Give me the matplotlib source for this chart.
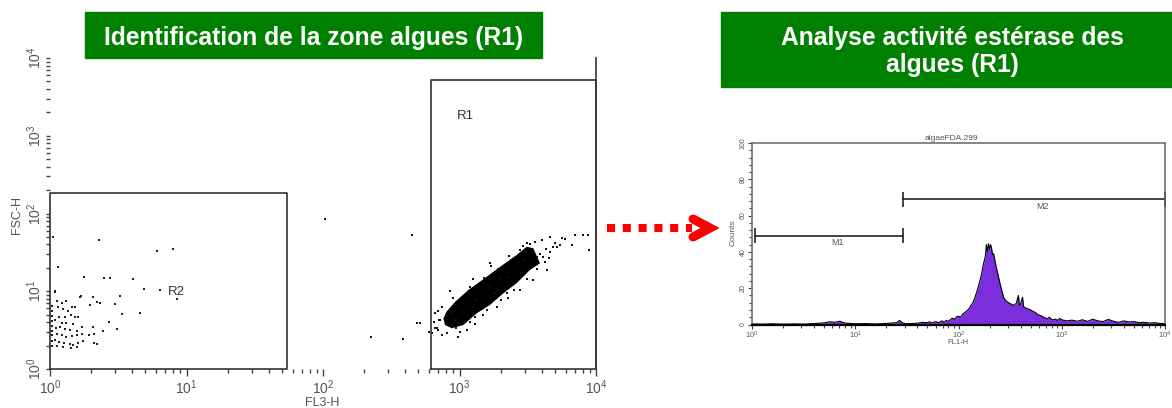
import matplotlib
matplotlib.use("Agg")
import matplotlib.pyplot as plt
from matplotlib.patches import Rectangle
from matplotlib.lines import Line2D
from matplotlib.ticker import MultipleLocator, LogLocator, NullFormatter

plt.rcParams['font.family'] = ['Liberation Sans', 'DejaVu Sans']

W, H = 1172, 408

# ---- texts ----
title_left = "Identification de la zone algues (R1)"
title_right = ["Analyse activité estérase des", "algues (R1)"]
hist_name = "algaeFDA.299"
decade_labels = [r"$\mathregular{10^{%d}}$" % k for k in range(5)]
decades = [1, 10, 100, 1000, 10000]

# ---- cytogram FL3-H / FSC-H ----
# debris / small particles (gate R2)
debris = [(1.06, 50), (2.30, 45.6), (6.04, 33.2), (7.9, 34.9), (1.15, 20.3), (1.78, 15.4),
          (2.5, 14.7), (2.75, 14.7), (4.08, 14.2), (4.88, 10.6), (6.4, 10.4), (8.5, 7.9),
          (3.26, 8.7), (1.69, 8.7), (2.99, 6.9), (2.05, 8.4), (2.2, 7.3), (2.32, 7.1),
          (1.96, 6.7), (4.57, 5.2), (3.39, 5.1), (2.72, 4.06), (3.08, 3.3), (2.08, 3.5),
          (2.1, 2.82), (1.94, 2.74), (2.46, 3.11), (2.11, 2.18), (2.2, 2.1),
          (1.09, 9.9), (1.12, 7.6), (1.22, 7.1), (1.32, 7.6), (1.44, 6.2), (1.52, 6.3),
          (1.66, 8.5), (1.15, 6.3), (1.25, 5.9), (1.36, 5.6), (1.17, 4.6), (1.29, 4.7),
          (1.42, 4.95), (1.52, 4.6), (1.61, 4.7), (1.09, 4.27), (1.22, 3.94), (1.32, 3.87),
          (1.47, 3.79), (1.11, 3.34), (1.18, 3.44), (1.29, 3.24), (1.40, 3.17), (1.58, 3.11),
          (1.71, 3.5), (1.13, 2.82), (1.22, 2.71), (1.32, 2.6), (1.44, 2.66), (1.57, 2.74),
          (1.71, 2.82), (1.09, 2.36), (1.17, 2.24), (1.27, 2.14), (1.39, 2.1), (1.48, 2.04),
          (1.61, 2.18), (1.75, 2.31), (1.12, 1.98), (1.25, 1.94), (1.42, 1.85), (1.57, 1.94),
          (1.03, 6.5), (1.03, 5.5), (1.03, 4.8), (1.03, 4.2), (1.03, 3.6), (1.03, 3.1),
          (1.03, 2.7), (1.03, 2.3), (1.03, 2.0), (1.09, 10.2)]

# algae events around the dense core (gate R1) and a few strays
algae = [(447, 53), (514, 3.86), (388, 2.41), (625, 2.88), (662, 3.34), (720, 4.27),
         (740, 2.74), (980, 2.6), (1128, 3.18), (1009, 3.02), (805, 2.88), (1671, 22.9),
         (1923, 10.4), (2218, 15.4), (2776, 34), (3107, 41.3), (3576, 43.4), (4001, 45.6),
         (4605, 50.4), (4868, 37.4), (5601, 48), (5929, 46.6), (6637, 39.4), (7017, 53),
         (8075, 53), (8790, 53), (8934, 34), (4353, 18.8), (3474, 14), (2776, 10.4),
         (2281, 8.1), (1871, 6.3), (1495, 4.95), (1194, 4.06), (2937, 25.2), (3674, 27.9),
         (4111, 27.9), (4605, 32.3), (5152, 37.4), (5448, 39.4), (3380, 32.3), (2410, 20.7),
         (1981, 14.7), (1671, 11.5), (1336, 7.7), (1067, 5.46), (927, 4.27), (877, 5.2),
         (1414, 9.4), (1820, 9.4), (1262, 6.3), (2776, 17), (2478, 12.6), (2218, 9.4),
         (1200, 11.5), (1500, 14.8), (1900, 19.5), (2400, 25), (3000, 32), (900, 8.2),
         (700, 5.5), (750, 6.2), (1100, 4.0), (1300, 4.6), (1600, 5.8), (2000, 7.8),
         (2500, 10.5), (3100, 14.5), (3700, 19.5), (4200, 23.5), (4500, 26.5), (3900, 30),
         (4300, 35), (5000, 42), (3300, 40), (2900, 38), (2300, 28), (1700, 21),
         (1250, 14.5), (850, 10), (650, 4.0), (700, 3.2), (950, 3.4), (1300, 3.8),
         (103, 84), (225, 2.56), (486, 3.87), (601, 3.02), (662, 5.2), (681, 3.34), (708, 4.27)]

# outline of the saturated (black) part of the algae cloud
core_fl3 = [783, 877, 1067, 1337, 1672, 2094, 2624, 3283, 3890, 3474, 3106, 2624, 2155,
            1770, 1413, 1161, 927, 806, 762]
core_fsc = [3.68, 3.34, 3.68, 5.2, 6.66, 9.4, 12.7, 18.8, 22.9, 35.7, 37.4, 29.3, 22.9,
            17.8, 13.3, 10.4, 7.3, 5.5, 4.5]

# gates: (fl3 min, fl3 max, fsc min, fsc max)
gate_r2 = (1, 54.5, 1, 184)
gate_r1 = (618, 10000, 1, 5200)

# ---- histogram FL1-H (esterase activity) ----
hist_fl1 = [1.0, 1.26, 1.58, 2.0, 2.51, 3.16, 3.98, 5.01, 5.62, 6.31, 7.08, 7.94, 10, 12.6,
            15.8, 20.0, 25.1, 26.9, 28.8, 31.6, 39.8, 44.7, 50.1, 52.5, 55.0, 57.5, 60.3,
            63.1, 66.1, 69.2, 72.4, 75.9, 79.4, 83.2, 87.1, 91.2, 95.5, 100, 104.7, 109.6,
            114.8, 120.2, 125.9, 131.8, 138.0, 144.5, 151.4, 158.5, 166.0, 173.8, 182.0,
            186.2, 190.5, 195.0, 199.5, 204.2, 208.9, 213.8, 218.8, 229.1, 239.9, 251.2,
            263.0, 275.4, 288.4, 302.0, 316.2, 331.1, 346.7, 363.1, 380.2, 389.0, 398.1,
            416.9, 426.6, 457.1, 478.6, 501.2, 524.8, 549.5, 575.4, 602.6, 631.0, 660.7,
            691.8, 724.4, 758.6, 794.3, 831.8, 871.0, 912.0, 955.0, 1000, 1122, 1259, 1413,
            1585, 1778, 1995, 2239, 2512, 2818, 3162, 3548, 3981, 4467, 5012, 5623, 6310,
            7079, 7943, 8913, 10000]
hist_counts = [0.3, 0.2, 0.4, 0.2, 0.3, 0.2, 0.5, 0.9, 1.5, 1.2, 1.8, 0.8, 0.4, 0.5,
               0.3, 0.6, 1.0, 2.2, 0.8, 0.4, 0.7, 1.2, 1.0, 1.5, 0.8, 1.2, 1.6,
               1.0, 1.4, 2.0, 1.3, 2.2, 1.8, 2.6, 3.5, 2.8, 4.2, 4.5, 4.0, 5.8,
               6.5, 7.5, 8.5, 10.5, 12.0, 15.0, 18.5, 22.5, 27.0, 33.0, 37.5,
               44.0, 40.0, 44.5, 41.5, 44.0, 42.0, 38.5, 39.0, 33.0, 28.0, 23.0,
               18.5, 14.5, 13.0, 12.2, 11.5, 11.0, 10.5, 11.8, 16.0, 10.5, 11.0,
               15.0, 9.8, 8.8, 8.5, 8.0, 7.2, 6.8, 5.8, 5.2, 4.8, 4.2,
               3.5, 3.2, 4.0, 2.8, 2.5, 3.0, 2.2, 3.4, 2.6, 2.0, 2.4, 1.8,
               2.6, 1.7, 2.9, 2.0, 1.6, 2.8, 1.8, 1.2, 2.0, 1.4, 1.6, 1.0,
               1.2, 0.8, 1.0, 0.6, 0.5]

marker_names = ["M1", "M2"]
marker_lo = [1.07, 29.2]
marker_hi = [29.2, 10000]
marker_level = [49, 69]

GREEN = "#008000"
GRAY = "#555555"
PURPLE = "#7b2fdc"


def fx(px):
    return px / W


def fy(py):
    return 1 - py / H


fig = plt.figure(figsize=(W / 100, H / 100), dpi=100)

# ---------- left: cytogram ----------
ax = fig.add_axes([fx(50), fy(369), (596 - 50) / W, (369 - 58) / H])
ax.set_xscale('log')
ax.set_yscale('log')
ax.set_xlim(1, 1e4)
ax.set_ylim(1, 1e4)
for s in ax.spines.values():
    s.set_visible(False)
ax.set_xticks(decades, decade_labels, fontsize=10, color=GRAY)
ax.set_yticks(decades, decade_labels, fontsize=10, color=GRAY, rotation=90, va='center')
ax.xaxis.set_minor_locator(LogLocator(base=10, subs=range(2, 10), numticks=20))
ax.yaxis.set_minor_locator(LogLocator(base=10, subs=range(2, 10), numticks=20))
ax.xaxis.set_minor_formatter(NullFormatter())
ax.yaxis.set_minor_formatter(NullFormatter())
ax.tick_params(which='both', color='#444444', width=1, pad=1.5)
ax.tick_params(axis='x', which='major', length=5)
ax.tick_params(axis='x', which='minor', length=3)
ax.tick_params(axis='y', which='both', length=3)

dx, dy = zip(*debris)
ax.scatter(dx, dy, s=3, marker='s', c='#222222', linewidths=0, clip_on=False)
ax.fill(core_fl3, core_fsc, color='black', lw=0)
axx, axy = zip(*algae)
ax.scatter(axx, axy, s=3, marker='s', c='#111111', linewidths=0, clip_on=False)

for g in (gate_r2, gate_r1):
    ax.plot([g[0], g[0], g[1], g[1], g[0]], [g[2], g[3], g[3], g[2], g[2]],
            color='#333333', lw=1.2, clip_on=False)
ax.plot([gate_r1[1], gate_r1[1]], [1, 1e4], color='#333333', lw=1.2, clip_on=False)
ax.text(7.3, 9.8, "R2", fontsize=9.5, color='#333333', va='center')
ax.text(960, 1800, "R1", fontsize=9.5, color='#333333', va='center')

fig.text(fx(17), fy(215), "FSC-H", rotation=90, fontsize=9, color=GRAY,
         ha='center', va='center')
fig.text(fx(322), fy(403), "FL3-H", fontsize=9, color=GRAY, ha='center', va='center')

# ---------- right: histogram ----------
hx = fig.add_axes([fx(752), fy(324.5), (1165 - 752) / W, (324.5 - 143) / H])
hx.set_xscale('log')
hx.set_xlim(1, 1e4)
hx.set_ylim(0, 100)
hx.fill_between(hist_fl1, hist_counts, 0, color=PURPLE, lw=0)
hx.plot(hist_fl1, hist_counts, color='black', lw=0.8)
for name, lo, hi, lev in zip(marker_names, marker_lo, marker_hi, marker_level):
    hx.plot([lo, hi], [lev, lev], color='#222222', lw=1.2, clip_on=False)
    hx.vlines([lo, hi], lev - 4, lev + 4, color='#222222', lw=1.2, clip_on=False)
    hx.text((lo * hi) ** 0.5 * 1.2, lev - 4, name, fontsize=6.5, color=GRAY,
            ha='center', va='center')

for side in ('top', 'right', 'left'):
    hx.spines[side].set_color('#666666')
    hx.spines[side].set_linewidth(1.1)
hx.spines['bottom'].set_color('black')
hx.spines['bottom'].set_linewidth(1.6)
hx.set_xticks(decades, decade_labels, fontsize=5.5, color=GRAY)
hx.xaxis.set_minor_locator(LogLocator(base=10, subs=range(2, 10), numticks=20))
hx.xaxis.set_minor_formatter(NullFormatter())
hx.set_yticks([0, 20, 40, 60, 80, 100], ['0', '20', '40', '60', '80', '100'],
              fontsize=5, color=GRAY, rotation=90, va='center')
hx.yaxis.set_minor_locator(MultipleLocator(4))
hx.tick_params(which='both', color='#444444', width=0.8, length=2.5, pad=1)
hx.tick_params(which='major', length=3)

fig.text(fx(951), fy(140), hist_name, fontsize=6, color=GRAY, ha='center', va='baseline')
fig.text(fx(733), fy(233), "Counts", rotation=90, fontsize=6, color=GRAY,
         ha='center', va='center')
fig.text(fx(958), fy(343), "FL1-H", fontsize=5.5, color=GRAY, ha='center', va='center')

# ---------- title boxes ----------
fig.patches.append(Rectangle((fx(85), fy(58)), (542 - 85) / W, 46 / H,
                             transform=fig.transFigure, color=GREEN, zorder=0))
fig.text(fx(313.5), fy(45), title_left, fontsize=17.7, fontweight='bold',
         color='white', ha='center', va='baseline')
fig.patches.append(Rectangle((fx(721), fy(87)), (1172 - 721) / W, 75 / H,
                             transform=fig.transFigure, color=GREEN, zorder=0))
fig.text(fx(952), fy(45), title_right[0], fontsize=17.7, fontweight='bold',
         color='white', ha='center', va='baseline')
fig.text(fx(952), fy(72), title_right[1], fontsize=17.7, fontweight='bold',
         color='white', ha='center', va='baseline')

# ---------- red dotted arrow ----------
fig.lines.append(Line2D([fx(607), fx(692)], [fy(228), fy(228)], transform=fig.transFigure,
                        color='red', lw=5.8, dashes=(1.0, 0.96), solid_capstyle='butt',
                        dash_capstyle='butt'))
fig.lines.append(Line2D([fx(693), fx(710), fx(693)], [fy(219), fy(228), fy(237)],
                        transform=fig.transFigure, color='red', lw=6.5,
                        solid_capstyle='round', solid_joinstyle='miter'))

fig.savefig("out.png", dpi=100)
